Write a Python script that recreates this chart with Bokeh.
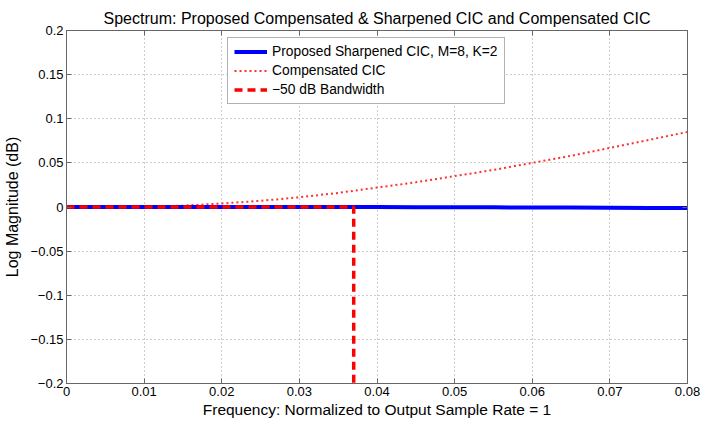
from bokeh.plotting import figure
from bokeh.models import LinearAxis, Range1d, FixedTicker, Legend, LegendItem
from bokeh.embed import file_html
from bokeh.resources import INLINE

freq = [0.0, 0.005, 0.01, 0.015, 0.02, 0.025, 0.03, 0.035, 0.04, 0.045,
        0.05, 0.055, 0.06, 0.065, 0.07, 0.075, 0.08]
sharpened = [0.0, 0.0, 0.0, 0.0, 0.0, 0.0, 0.0, 0.0, -0.0001, -0.0002,
             -0.0003, -0.0004, -0.0005, -0.0006, -0.0008, -0.001, -0.0012]
compensated = [0.0, 0.0001, 0.0005, 0.0015, 0.004, 0.007, 0.011, 0.016, 0.022, 0.028,
               0.035, 0.042, 0.050, 0.058, 0.067, 0.076, 0.085]
bw_x = [0.0, 0.037, 0.037]
bw_y = [0.0, 0.0, -0.2]

x_ticks = [0, 0.01, 0.02, 0.03, 0.04, 0.05, 0.06, 0.07, 0.08]
x_labels = ["0", "0.01", "0.02", "0.03", "0.04", "0.05", "0.06", "0.07", "0.08"]
y_ticks = [-0.2, -0.15, -0.1, -0.05, 0, 0.05, 0.1, 0.15, 0.2]
y_labels = ["\u22120.2", "\u22120.15", "\u22120.1", "\u22120.05", "0", "0.05", "0.1", "0.15", "0.2"]

FONT = "Liberation Sans"

p = figure(width=702, height=422, output_backend="svg", toolbar_location=None,
           x_range=Range1d(0, 0.08), y_range=Range1d(-0.2, 0.2),
           min_border_left=66, min_border_right=15, min_border_top=30, min_border_bottom=39,
           title="Spectrum: Proposed Compensated & Sharpened CIC and Compensated CIC")
p.title.align = "center"
p.title.vertical_align = "top"
p.title.text_font = FONT
p.title.text_font_size = "16px"
p.title.text_font_style = "normal"
p.title.text_color = "#000000"
p.title.standoff = 4

p.outline_line_color = "#666666"
p.outline_line_width = 1

for ax, ticks, labels in ((p.xaxis[0], x_ticks, x_labels), (p.yaxis[0], y_ticks, y_labels)):
    ax.ticker = FixedTicker(ticks=ticks)
    ax.major_label_overrides = {t: l for t, l in zip(ticks, labels)}
    ax.major_tick_in = 5
    ax.major_tick_out = 0
    ax.minor_tick_line_color = None
    ax.axis_line_color = "#666666"
    ax.major_tick_line_color = "#666666"
    ax.major_label_text_font = FONT
    ax.major_label_text_font_size = "13px"
    ax.major_label_text_color = "#000000"
    ax.axis_label_text_font = FONT
    ax.axis_label_text_font_style = "normal"
    ax.axis_label_text_color = "#000000"

p.xaxis[0].axis_label = "Frequency: Normalized to Output Sample Rate = 1"
p.yaxis[0].axis_label = "Log Magnitude (dB)"
p.xaxis[0].axis_label_text_font_size = "15.5px"
p.yaxis[0].axis_label_text_font_size = "16px"
p.xaxis[0].major_label_standoff = 3
p.xaxis[0].axis_label_standoff = 2
p.yaxis[0].major_label_standoff = 3
p.yaxis[0].axis_label_standoff = 7

top_ax = LinearAxis(ticker=FixedTicker(ticks=x_ticks), major_tick_in=5, major_tick_out=0,
                    minor_tick_line_color=None, major_label_standoff=0,
                    major_label_overrides={t: "" for t in x_ticks},
                    axis_line_color="#666666", major_tick_line_color="#666666")
right_ax = LinearAxis(ticker=FixedTicker(ticks=y_ticks), major_tick_in=5, major_tick_out=0,
                      minor_tick_line_color=None, major_label_standoff=0,
                      major_label_overrides={t: "" for t in y_ticks},
                      axis_line_color="#666666", major_tick_line_color="#666666")
p.add_layout(top_ax, "above")
p.add_layout(right_ax, "right")

p.xgrid.ticker = FixedTicker(ticks=x_ticks)
p.ygrid.ticker = FixedTicker(ticks=y_ticks)
for g in (p.xgrid, p.ygrid):
    g.grid_line_color = "#9a9a9a"
    g.grid_line_dash = "1 3"
    g.grid_line_width = 1

r_cic = p.line(freq, compensated, line_color="#ff3030", line_width=2, line_dash="2 3")
r_sharp = p.line(freq, sharpened, line_color="#0000ff", line_width=4)
r_bw = p.line(bw_x, bw_y, line_color="#ff0000", line_width=3.5, line_dash="8 5")

legend = Legend(items=[
    LegendItem(label="Proposed Sharpened CIC, M=8, K=2", renderers=[r_sharp]),
    LegendItem(label="Compensated CIC", renderers=[r_cic]),
    LegendItem(label="\u221250 dB Bandwidth", renderers=[r_bw]),
], location=(161, 279))
legend.label_text_font = FONT
legend.label_text_font_size = "13.8px"
legend.label_text_color = "#000000"
legend.label_height = 13
legend.glyph_height = 13
legend.glyph_width = 33
legend.label_standoff = 5
legend.spacing = 4
legend.padding = 6
legend.margin = 0
legend.border_line_color = "#666666"
legend.border_line_width = 1
legend.background_fill_color = "#ffffff"
legend.background_fill_alpha = 1
p.add_layout(legend, "center")

open("out.html", "w").write(file_html(p, INLINE))
